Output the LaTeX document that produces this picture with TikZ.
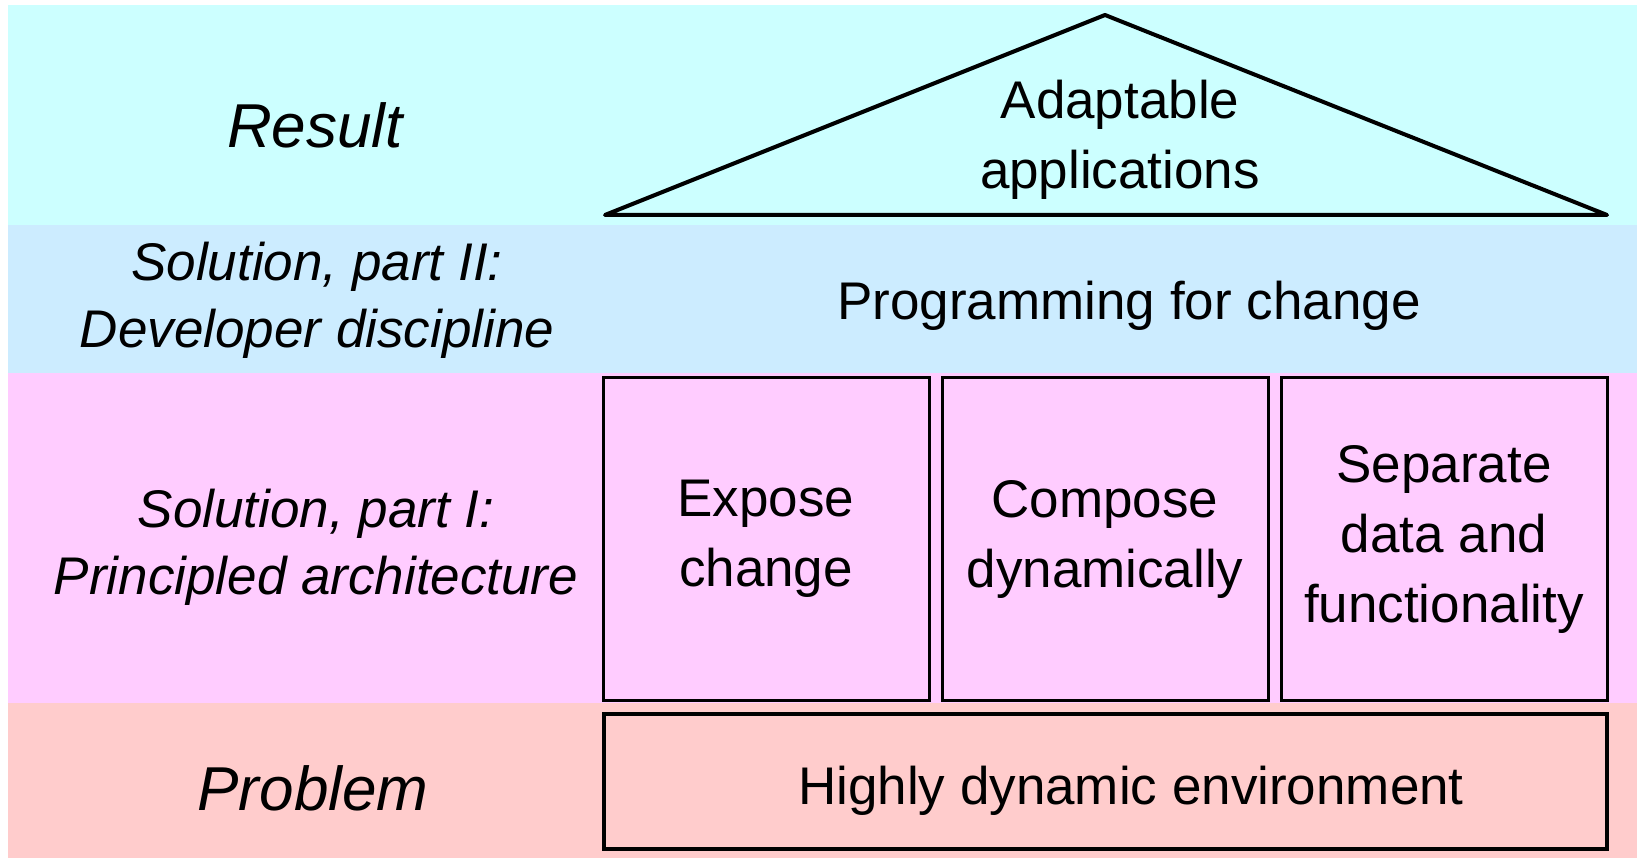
\documentclass[tikz,border=0pt]{standalone}
\usepackage{fontspec}
\setmainfont{Liberation Sans}
\usepackage{tikz}
\usetikzlibrary{positioning}

\definecolor{resultcyan}{HTML}{CCFFFF}
\definecolor{disciplineblue}{HTML}{CCECFF}
\definecolor{architecturepink}{HTML}{FFCCFF}
\definecolor{problemrose}{HTML}{FFCCCC}

\begin{document}
\begin{tikzpicture}[
    x=0.5pt, y=-0.5pt,
    node distance=6.5pt,
    rowtitle/.style={align=center, font=\fontsize{31}{38}\selectfont\itshape},
    rowsubtitle/.style={align=center, font=\fontsize{26.5}{33.5}\selectfont\itshape},
    plaintext/.style={align=center, font=\fontsize{26.5}{35}\selectfont},
    pillar/.style={rectangle, draw=black, line width=1.5pt, outer sep=0pt, minimum width=163pt, minimum height=161pt, inner sep=0pt, align=center, font=\fontsize{26.5}{35}\selectfont},
    groundbox/.style={rectangle, draw=black, line width=2pt, outer sep=0pt, minimum width=501.5pt, minimum height=67.5pt, inner sep=0pt},
    roofline/.style={draw=black, line width=2pt, line join=round}
]
\useasboundingbox (0,0) rectangle (1637,860);

% Bands
\fill[resultcyan] (8,5) rectangle (1637,225);
\fill[disciplineblue] (8,225) rectangle (1637,373);
\fill[architecturepink] (8,373) rectangle (1637,703);
\fill[problemrose] (8,703) rectangle (1637,858);

% Row titles
\node (result) [rowtitle] at (315,125) {Result};
\node (partTwo) [rowsubtitle] at (317,300) {Solution, part II:\\Developer discipline};
\node (partOne) [rowsubtitle] at (316,547) {Solution, part I:\\Principled architecture};
\node (problem) [rowtitle] at (313,788) {Problem};

% Roof
\coordinate (roofL) at (605,215);
\coordinate (roofTop) at (1105,15);
\coordinate (roofR) at (1607,215);
\draw [roofline] (roofL) -- (roofTop) -- (roofR) -- cycle;
\node (adaptable) [plaintext] at (1120,140) {Adaptable\\applications};

\node (programming) [plaintext] at (1129,306) {Programming for change};

% Pillars
\node (expose) [pillar] at (766,539) {Expose\\change};
\node (compose) [pillar, right=of expose] {Compose\\dynamically};
\node (separate) [pillar, right=of compose] {Separate\\data and\\functionality};

% Ground
\node (environment) [groundbox] at (1105,781) {};
\node (environmentText) [plaintext, xshift=13pt, yshift=-5pt] at (environment.center) {Highly dynamic environment};

\end{tikzpicture}
\end{document}
